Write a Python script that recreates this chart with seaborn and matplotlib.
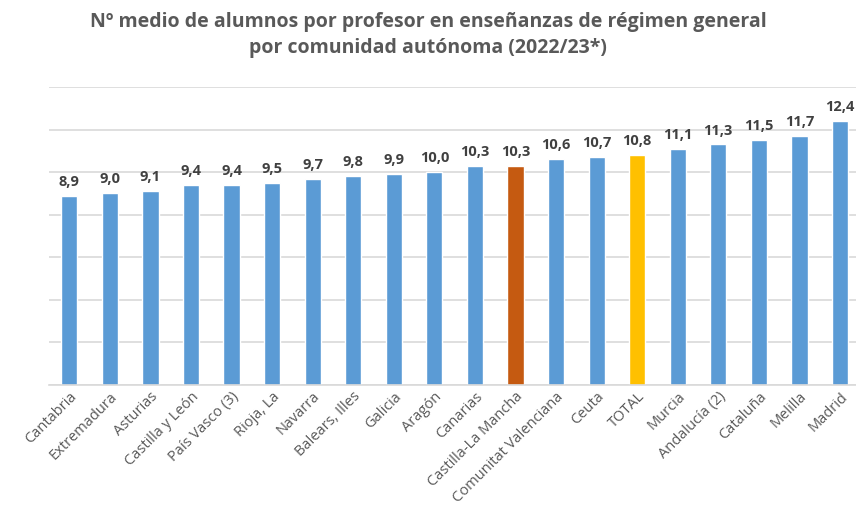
import matplotlib
matplotlib.use("Agg")
import matplotlib.pyplot as plt
import seaborn as sns
import pandas as pd

categories = ["Cantabria", "Extremadura", "Asturias", "Castilla y León", "País Vasco (3)",
              "Rioja, La", "Navarra", "Balears, Illes", "Galicia", "Aragón", "Canarias",
              "Castilla-La Mancha", "Comunitat Valenciana", "Ceuta", "TOTAL", "Murcia",
              "Andalucía (2)", "Cataluña", "Melilla", "Madrid"]
values = [8.9, 9.0, 9.1, 9.4, 9.4, 9.5, 9.7, 9.8, 9.9, 10.0, 10.3, 10.3, 10.6, 10.7,
          10.8, 11.1, 11.3, 11.5, 11.7, 12.4]

title = "Nº medio de alumnos por profesor en enseñanzas de régimen general\npor comunidad autónoma (2022/23*)"

BLUE = "#5B9BD5"
ORANGE = "#C55A11"
YELLOW = "#FFC000"
colors = [ORANGE if c == "Castilla-La Mancha" else YELLOW if c == "TOTAL" else BLUE
          for c in categories]

df = pd.DataFrame({"cat": categories, "val": values})

sns.set_theme(style="white")
plt.rcParams["font.family"] = ["Open Sans", "DejaVu Sans"]

fig = plt.figure(figsize=(8.56, 5.14), dpi=100)
ax = fig.add_axes([49/856, 1 - 385/514, 1 - 49/856 + 0.005, (385 - 87)/514])

sns.barplot(data=df, x="cat", y="val", hue="cat", palette=colors, legend=False,
            width=0.4, ax=ax, saturation=1)

ax.set_ylim(0, 14)
ax.set_xlim(-0.5, len(categories) - 0.5)
ax.set_yticks(range(0, 15, 2))
ax.set_yticklabels([])
ax.tick_params(axis="y", length=0)
ax.yaxis.grid(True, color="#d9d9d9", linewidth=1.2)
ax.set_axisbelow(True)
for s in ["left", "right", "top"]:
    ax.spines[s].set_visible(False)
ax.spines["bottom"].set_color("#d9d9d9")
ax.spines["bottom"].set_linewidth(1.2)
ax.set_xlabel("")
ax.set_ylabel("")

ax.set_xticks(range(len(categories)))
ax.set_xticklabels(categories, rotation=45, ha="right", rotation_mode="anchor",
                   fontsize=10.5, color="#595959")
ax.tick_params(axis="x", length=0, pad=3)

for i, v in enumerate(values):
    ax.annotate(f"{v:.1f}".replace(".", ","), (i, v), xytext=(0, 5),
                textcoords="offset points", ha="center", va="bottom",
                fontsize=10.5, fontweight="bold", color="#404040")

fig.text(0.5, 1 - 35/514, title, ha="center", va="center", fontsize=14,
         fontweight="bold", color="#595959", linespacing=1.45)

fig.savefig("out.png", dpi=100)
